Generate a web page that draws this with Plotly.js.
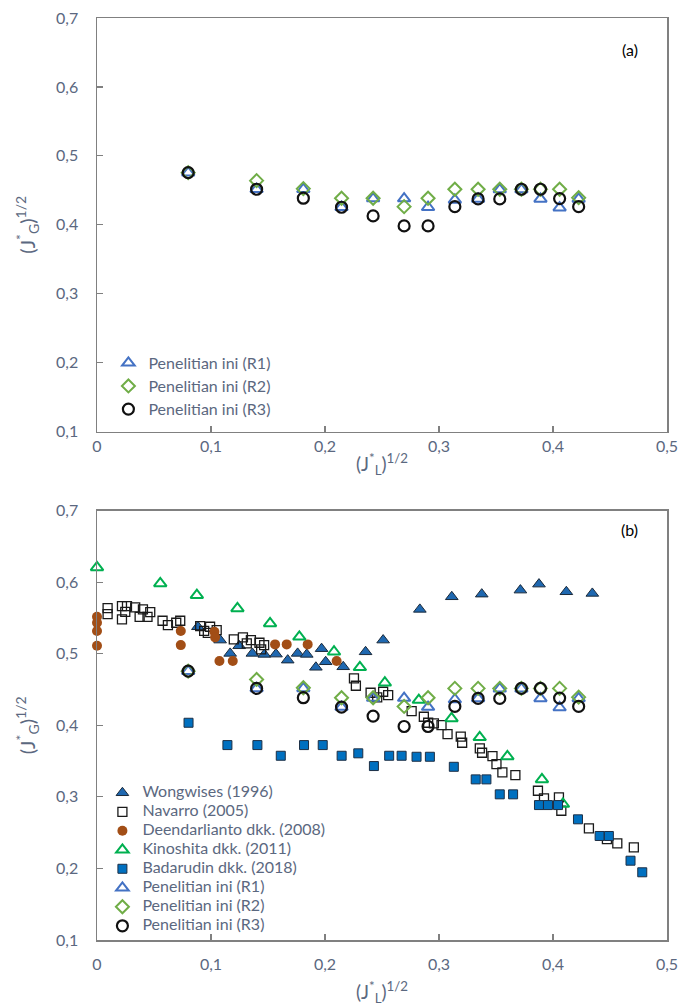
<!DOCTYPE html>
<html>
<head>
<meta charset="utf-8">
<script src="https://cdn.plot.ly/plotly-3.0.1.min.js"></script>
<style>html,body{margin:0;padding:0;background:#fff;}#chart{width:682px;height:1007px;}</style>
</head>
<body>
<div id="chart"></div>
<script>
// ---------- Data ----------
// Penelitian ini (this study) — same data in both panels
const pen_x  = [0.080, 0.140, 0.181, 0.2145, 0.2422, 0.2694, 0.2904, 0.3139, 0.3343, 0.3533, 0.3723, 0.389, 0.4058, 0.4225];
const pen_R1 = [0.4756, 0.4515, 0.4515, 0.4254, 0.438, 0.438, 0.4254, 0.436, 0.4375, 0.451, 0.451, 0.4375, 0.4248, 0.4375];
const pen_R2 = [0.4756, 0.464, 0.4524, 0.4385, 0.4385, 0.4263, 0.4385, 0.4515, 0.4515, 0.4515, 0.4515, 0.4515, 0.4515, 0.4393];
const pen_R3 = [0.4756, 0.4515, 0.4385, 0.4254, 0.4128, 0.3983, 0.3983, 0.4263, 0.4375, 0.4375, 0.4515, 0.4515, 0.438, 0.4263];

// Wongwises (1996)
const wong_x = [0.0885, 0.108, 0.1168, 0.1247, 0.1363, 0.1468, 0.157, 0.1673, 0.176, 0.184, 0.192, 0.197, 0.2006, 0.216, 0.2356, 0.251, 0.2832, 0.3112, 0.3375, 0.3714, 0.3877, 0.4117, 0.4345];
const wong_y = [0.5376, 0.519, 0.5004, 0.511, 0.5004, 0.499, 0.4994, 0.491, 0.5004, 0.499, 0.481, 0.507, 0.4887, 0.4817, 0.5026, 0.519, 0.5619, 0.5795, 0.5832, 0.5888, 0.5972, 0.5865, 0.5842];

// Navarro (2005)
const nav_x = [0.0093, 0.0093, 0.0219, 0.0219, 0.0248, 0.0263, 0.0335, 0.0374, 0.0403, 0.0443, 0.0467, 0.0575, 0.0622, 0.0695, 0.073, 0.0905, 0.094, 0.0972, 0.0992, 0.105, 0.120, 0.128, 0.1314, 0.135, 0.1425, 0.144, 0.1466, 0.2254, 0.2271, 0.240, 0.2458, 0.251, 0.2554, 0.276, 0.2867, 0.2905, 0.2955, 0.3022, 0.3075, 0.3191, 0.3203, 0.3358, 0.3378, 0.3469, 0.3504, 0.3556, 0.367, 0.3868, 0.3921, 0.4052, 0.4073, 0.4315, 0.4473, 0.4564, 0.4709];
const nav_y = [0.5637, 0.5553, 0.5665, 0.548, 0.5585, 0.5665, 0.5646, 0.5515, 0.5619, 0.5515, 0.558, 0.546, 0.540, 0.5432, 0.546, 0.5385, 0.532, 0.529, 0.5376, 0.533, 0.520, 0.5228, 0.5144, 0.519, 0.5153, 0.506, 0.512, 0.4655, 0.4552, 0.4454, 0.439, 0.4468, 0.4422, 0.4198, 0.4119, 0.4035, 0.4027, 0.4003, 0.3877, 0.384, 0.3756, 0.3677, 0.3616, 0.357, 0.3458, 0.3342, 0.3304, 0.3085, 0.2979, 0.2993, 0.2806, 0.256, 0.241, 0.235, 0.2295];

// Deendarlianto dkk. (2008)
const deen_x = [0, 0, 0, 0, 0.0735, 0.0735, 0.103, 0.1036, 0.1074, 0.1191, 0.1562, 0.1664, 0.1848, 0.2102];
const deen_y = [0.5515, 0.5432, 0.5316, 0.511, 0.5316, 0.512, 0.5306, 0.5228, 0.4897, 0.4897, 0.513, 0.513, 0.513, 0.4897];

// Kinoshita dkk. (2011)
const kino_x = [0, 0.0555, 0.0876, 0.1232, 0.1518, 0.1775, 0.2079, 0.2306, 0.2525, 0.2823, 0.311, 0.3357, 0.36, 0.3903, 0.4087];
const kino_y = [0.6205, 0.5982, 0.5818, 0.5633, 0.5423, 0.5236, 0.5027, 0.4809, 0.4594, 0.4352, 0.4096, 0.3831, 0.3565, 0.3244, 0.290];

// Badarudin dkk. (2018)
const bad_x = [0.0803, 0.1144, 0.1407, 0.1612, 0.1816, 0.198, 0.2146, 0.2292, 0.2429, 0.2563, 0.2672, 0.2803, 0.292, 0.313, 0.3322, 0.3416, 0.3533, 0.365, 0.3877, 0.3956, 0.4044, 0.4219, 0.4409, 0.449, 0.468, 0.4783];
const bad_y = [0.4035, 0.3723, 0.3723, 0.3574, 0.3723, 0.3723, 0.3574, 0.3608, 0.343, 0.3574, 0.3574, 0.356, 0.356, 0.342, 0.3244, 0.3244, 0.3035, 0.3035, 0.2885, 0.2885, 0.2885, 0.2686, 0.2453, 0.2453, 0.2108, 0.1946];

const names = {
  wong: 'Wongwises (1996)', nav: 'Navarro (2005)', deen: 'Deendarlianto dkk. (2008)',
  kino: 'Kinoshita dkk. (2011)', bad: 'Badarudin dkk. (2018)',
  r1: 'Penelitian ini (R1)', r2: 'Penelitian ini (R2)', r3: 'Penelitian ini (R3)'
};

// ---------- Styles ----------
const textCol = '#5B6880';
const axCol = '#808080';
const FONT = 'Lato, "Open Sans", sans-serif';

function mk(x, y, name, marker, axes, legend) {
  return {x: x, y: y, name: name, type: 'scatter', mode: 'markers', marker: marker,
          xaxis: axes[0], yaxis: axes[1], legend: legend, showlegend: true, cliponaxis: false};
}
const mR1 = {symbol: 'triangle-up-open', size: 11, color: '#4472C4', line: {width: 2, color: '#4472C4'}};
const mR2 = {symbol: 'diamond-open', size: 10, color: '#70AD47', line: {width: 2, color: '#70AD47'}};
const mR3 = {symbol: 'circle-open', size: 11, color: '#111111', line: {width: 2.2, color: '#111111'}};

function lbl(s) { return '<span style="font-size:16px">' + s + '</span>'; }

const traces = [
  mk(pen_x, pen_R1, lbl(names.r1), mR1, ['x', 'y'], 'legend'),
  mk(pen_x, pen_R2, lbl(names.r2), mR2, ['x', 'y'], 'legend'),
  mk(pen_x, pen_R3, lbl(names.r3), mR3, ['x', 'y'], 'legend'),

  mk(wong_x, wong_y, lbl(names.wong), {symbol: 'triangle-up', size: 11, color: '#1F68B0', line: {width: 1, color: '#1b2a3a'}}, ['x2', 'y2'], 'legend2'),
  mk(nav_x, nav_y, lbl(names.nav), {symbol: 'square-open', size: 9, color: '#1a1a1a', line: {width: 1.3, color: '#1a1a1a'}}, ['x2', 'y2'], 'legend2'),
  mk(deen_x, deen_y, lbl(names.deen), {symbol: 'circle', size: 10, color: '#A24E16', line: {width: 0}}, ['x2', 'y2'], 'legend2'),
  mk(kino_x, kino_y, lbl(names.kino), {symbol: 'triangle-up-open', size: 11, color: '#00B050', line: {width: 2, color: '#00B050'}}, ['x2', 'y2'], 'legend2'),
  mk(bad_x, bad_y, lbl(names.bad), {symbol: 'square', size: 9, color: '#0070C0', line: {width: 1, color: '#1d2f45'}}, ['x2', 'y2'], 'legend2'),
  mk(pen_x, pen_R1, lbl(names.r1), mR1, ['x2', 'y2'], 'legend2'),
  mk(pen_x, pen_R2, lbl(names.r2), mR2, ['x2', 'y2'], 'legend2'),
  mk(pen_x, pen_R3, lbl(names.r3), mR3, ['x2', 'y2'], 'legend2')
];

function xax(anchor, labStand, titleStand) {
  return {anchor: anchor, domain: [0, 1], range: [0, 0.5], dtick: 0.1, tick0: 0,
    showgrid: false, zeroline: false, showline: true, linecolor: axCol, linewidth: 1.5, mirror: true,
    ticks: 'inside', ticklen: 6, tickwidth: 1.2, tickcolor: axCol,
    tickfont: {family: FONT, size: 16, color: textCol}, ticklabelstandoff: labStand,
    title: {text: '(J<sup>*</sup><sub>L</sub>)<sup>1/2</sup>', font: {family: FONT, size: 19, color: textCol}, standoff: titleStand}};
}
function yax(anchor, dom) {
  return {anchor: anchor, domain: dom, range: [0.1, 0.7], dtick: 0.1, tick0: 0.1,
    showgrid: false, zeroline: false, showline: true, linecolor: axCol, linewidth: 1.5, mirror: true,
    ticks: 'inside', ticklen: 6, tickwidth: 1.2, tickcolor: axCol,
    tickfont: {family: FONT, size: 16, color: textCol}, ticklabelstandoff: 14,
    title: {text: '(J<sup>*</sup><sub>G</sub>)<sup>1/2</sup>', font: {family: FONT, size: 20, color: textCol}, standoff: 15}};
}

const layout = {
  width: 682, height: 1007,
  margin: {l: 97, r: 15, t: 18, b: 67, pad: 0},
  paper_bgcolor: '#ffffff', plot_bgcolor: '#ffffff',
  separators: ',.',
  font: {family: FONT, color: textCol},
  xaxis: xax('y', 0, 3), yaxis: yax('x', [0.5515, 1]),
  xaxis2: xax('y2', 9, 14), yaxis2: yax('x2', [0, 0.4658]),
  legend: {x: 0.02, y: 0.644, xanchor: 'left', yanchor: 'top', bgcolor: 'rgba(0,0,0,0)',
           font: {family: FONT, size: 15.5, color: textCol}, itemclick: false},
  legend2: {x: 0.0095, y: 0.1754, xanchor: 'left', yanchor: 'top', bgcolor: 'rgba(0,0,0,0)',
            font: {family: FONT, size: 11.8, color: textCol}, itemclick: false},
  annotations: [
    {text: '(a)', xref: 'paper', yref: 'paper', x: 0.9526, y: 0.9783, showarrow: false,
     font: {family: FONT, size: 16, color: '#000000'}},
    {text: '(b)', xref: 'paper', yref: 'paper', x: 0.9526, y: 0.4447, showarrow: false,
     font: {family: FONT, size: 16, color: '#000000'}}
  ]
};

Plotly.newPlot('chart', traces, layout, {staticPlot: true, displayModeBar: false});
</script>
</body>
</html>
